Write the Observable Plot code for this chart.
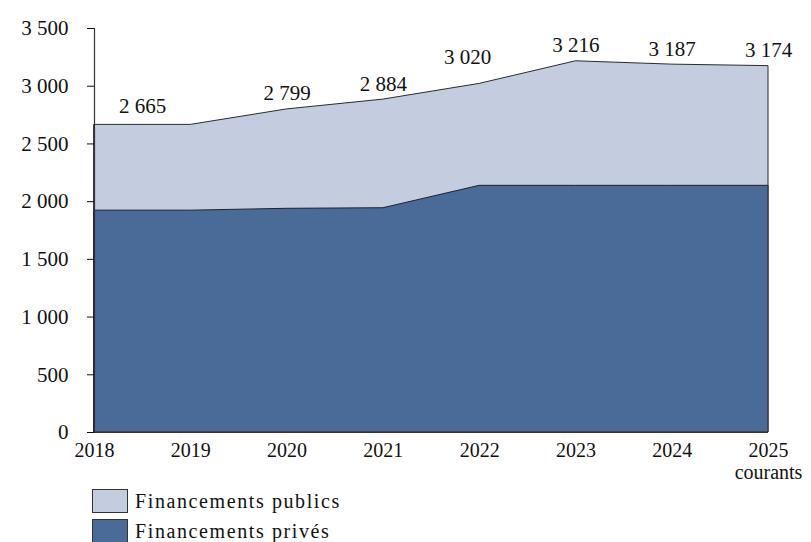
<!DOCTYPE html>
<html>
<head>
<meta charset="utf-8">
<script src="https://cdn.jsdelivr.net/npm/d3@7"></script>
<script src="https://cdn.jsdelivr.net/npm/@observablehq/plot@0.6"></script>
<style>
  body { margin: 0; background: #fff; font-family: "Liberation Serif", serif; overflow: hidden; }
  #chart svg { display: block; }
  #legend { position: relative; margin-left: 92px; margin-top: 1px; }
  .row { display: flex; align-items: center; height: 30px; }
  .sw { width: 34px; height: 22px; border: 1.5px solid #333; margin-right: 7px; box-sizing: content-box; }
  .lab { font-size: 20px; letter-spacing: 1.6px; color: #111; line-height: 22px; }
</style>
</head>
<body>
<div id="chart"></div>
<div id="legend"></div>
<script>
const years = [2018, 2019, 2020, 2021, 2022, 2023, 2024, 2025];
const totalFunding = [2665, 2665, 2799, 2884, 3020, 3216, 3187, 3174];
const privateFunding = [1922, 1922, 1938, 1943, 2137, 2137, 2137, 2137];
const yTicks = [0, 500, 1000, 1500, 2000, 2500, 3000, 3500];
const seriesNames = ["Financements publics", "Financements privés"];
const lastYearNote = "courants";

const colors = { publics: "#c3cddf", prives: "#4a6a98" };

const fr = d3.formatLocale({ decimal: ",", thousands: "\u00a0", grouping: [3], currency: ["", ""] });
const fmt = fr.format(",d");

const rows = years.map((y, i) => ({ year: y, total: totalFunding[i], prive: privateFunding[i] }));

// labels: first label sits between the first two (equal) years; 2019 not labelled
const labels = rows.filter((d, i) => i !== 1).map((d, i) => ({
  ...d,
  lx: i === 0 ? (years[0] + years[1]) / 2 : d.year
}));

const chart = Plot.plot({
  width: 811,
  height: 485,
  marginLeft: 94,
  marginRight: 43,
  marginTop: 28,
  marginBottom: 53,
  style: { fontFamily: "'Liberation Serif', serif", fontSize: "20px", color: "#111", background: "#fff" },
  x: { domain: [years[0], years[years.length - 1]], ticks: years, tickFormat: d => String(d), label: null },
  y: { domain: [0, 3500], ticks: yTicks, tickFormat: fmt, label: null },
  marks: [
    Plot.areaY(rows, { x: "year", y: "total", fill: colors.publics, stroke: "#2b2b2b", strokeWidth: 1 }),
    Plot.areaY(rows, { x: "year", y: "prive", fill: colors.prives, stroke: "#222", strokeWidth: 1 }),
    Plot.axisY({ ticks: yTicks, tickFormat: fmt, tickSize: 7, tickPadding: 19, fontSize: 21, letterSpacing: 1, label: null }),
    Plot.axisX({ ticks: years, tickFormat: d => String(d), tickSize: 0, tickPadding: 10, fontSize: 20, label: null }),
    Plot.ruleX([years[0]], { stroke: "#333", strokeWidth: 1.2 }),
    Plot.ruleY([0], { stroke: "#333", strokeWidth: 1.2 }),
    Plot.text(labels.filter(d => d.year !== 2018 && d.year !== 2022), {
      x: "lx", y: "total", text: d => fmt(d.total), lineAnchor: "bottom", dy: -9, fontSize: 21, letterSpacing: 1, fill: "#111"
    }),
    Plot.text(labels.filter(d => d.year === 2018), {
      x: "lx", y: "total", text: d => fmt(d.total), lineAnchor: "bottom", dy: -12, fontSize: 21, letterSpacing: 1, fill: "#111"
    }),
    Plot.text(labels.filter(d => d.year === 2022), {
      x: "lx", y: "total", text: d => fmt(d.total), lineAnchor: "bottom", dy: -20, dx: -12, fontSize: 21, letterSpacing: 1, fill: "#111"
    }),
    Plot.text([lastYearNote], {
      x: () => years[years.length - 1], y: () => 0, text: d => d, lineAnchor: "top", dy: 32, fontSize: 20, fill: "#111"
    })
  ]
});
document.getElementById("chart").appendChild(chart);

const legend = document.getElementById("legend");
[[seriesNames[0], colors.publics], [seriesNames[1], colors.prives]].forEach(([name, c]) => {
  const r = document.createElement("div");
  r.className = "row";
  r.innerHTML = `<div class="sw" style="background:${c}"></div><span class="lab">${name}</span>`;
  legend.appendChild(r);
});
</script>
</body>
</html>
